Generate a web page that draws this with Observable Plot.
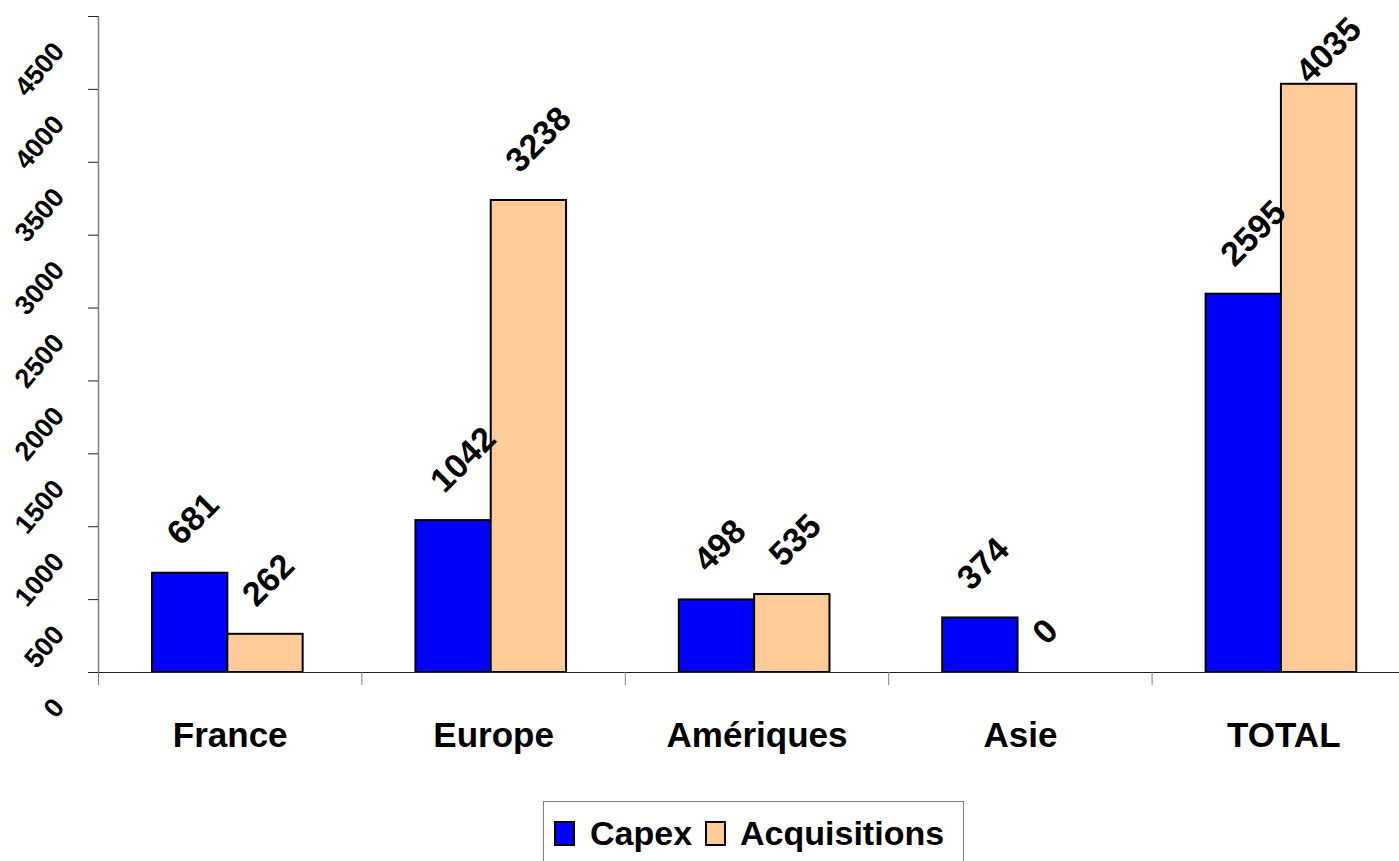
<!DOCTYPE html>
<html>
<head>
<meta charset="utf-8">
<script src="https://cdn.jsdelivr.net/npm/d3@7"></script>
<script src="https://cdn.jsdelivr.net/npm/@observablehq/plot@0.6"></script>
<style>
  body { margin: 0; background: #fff; font-family: "Liberation Sans", Arial, sans-serif; }
  #chart svg { display: block; }
  #legend {
    margin-left: 543px; margin-top: 11px; width: 421px; height: 64px;
    box-sizing: border-box; border: 1px solid #808080;
    display: flex; align-items: center; padding-left: 10px;
  }
  .sw { width: 21px; height: 25px; box-sizing: border-box; border: 2px solid #000; flex: none; }
  .lab { font-weight: bold; font-size: 34px; color: #000; white-space: nowrap; line-height: 1; }
</style>
</head>
<body>
<div id="chart"></div>
<div id="legend"></div>
<script>
// ---- data ----
const categories = ["France", "Europe", "Amériques", "Asie", "TOTAL"];
const seriesNames = ["Capex", "Acquisitions"];
const capex = [681, 1042, 498, 374, 2595];
const acquisitions = [262, 3238, 535, 0, 4035];
const seriesColors = ["#0000FF", "#FFCC99"];
const yTicks = [0, 500, 1000, 1500, 2000, 2500, 3000, 3500, 4000, 4500];

// ---- layout settings ----
const W = 1399, H = 790;
const barW = 0.286;       // bar width in category units
const shift = -0.009;     // group offset from category centre
const labelCeil = 3850;   // labels kept inside the chart area (as in the original)

const seriesValues = [capex, acquisitions];
const rows = [];
categories.forEach((cat, i) => {
  seriesNames.forEach((s, k) => {
    rows.push({cat, i, k, series: s, value: seriesValues[k][i]});
  });
});
const boundaries = d3.range(categories.length + 1).map(i => i - 0.5);
const centers = categories.map((_, i) => i);
const x1 = d => d.i + shift + (d.k - 1) * barW;

const chart = Plot.plot({
  width: W,
  height: H,
  marginLeft: 98,
  marginRight: 0,
  marginTop: 16,
  marginBottom: 118,
  style: {fontFamily: "'Liberation Sans', Arial, sans-serif", background: "#fff", color: "#000"},
  x: {domain: [-0.5, categories.length - 0.5], range: [98, 98 + 263.4 * categories.length], label: null},
  y: {domain: [0, 4500], label: null},
  color: {domain: seriesNames, range: seriesColors},
  marks: [
    // bars
    Plot.rect(rows.filter(d => d.value > 0), {
      x1: x1,
      x2: d => x1(d) + barW,
      y1: 0,
      y2: "value",
      fill: "series",
      stroke: "#000",
      strokeWidth: 2
    }),
    // baseline
    Plot.ruleY([0], {stroke: "#222", strokeWidth: 1.2}),
    // y axis line
    Plot.ruleX([-0.5], {y1: 0, y2: 4500, stroke: "#808080", strokeWidth: 1.5}),
    // y ticks
    Plot.axisY(yTicks, {tickSize: 10, tickFormat: () => "", stroke: "#222", label: null}),
    // y tick labels (rotated)
    Plot.text(yTicks, {
      y: d => d,
      text: d => String(d),
      frameAnchor: "left",
      textAnchor: "end",
      lineAnchor: "middle",
      rotate: -50,
      dx: -39.5,
      dy: 30,
      fontSize: 27,
      fontWeight: "bold",
      fill: "#000"
    }),
    // category boundary ticks
    Plot.axisX(boundaries, {tickSize: 13, tickFormat: () => "", stroke: "#808080", label: null}),
    // category labels
    Plot.axisX(centers, {
      tickSize: 0,
      tickPadding: 50,
      tickFormat: i => categories[i],
      fontSize: 35,
      fontWeight: "bold",
      fill: "#000",
      label: null
    }),
    // data labels
    Plot.text(rows, {
      x: d => x1(d) + barW / 2,
      y: d => Math.min(d.value, labelCeil),
      text: d => String(d.value),
      textAnchor: "start",
      lineAnchor: "middle",
      rotate: -45,
      dx: -17,
      dy: -34,
      fontSize: 34,
      fontWeight: "bold",
      fill: "#000"
    })
  ]
});
document.getElementById("chart").appendChild(chart);

// legend
const legend = document.getElementById("legend");
const gaps = [[0, 15], [13, 14]];
seriesNames.forEach((s, k) => {
  const sw = document.createElement("div");
  sw.className = "sw";
  sw.style.background = seriesColors[k];
  sw.style.marginLeft = gaps[k][0] + "px";
  const t = document.createElement("span");
  t.className = "lab";
  t.textContent = s;
  t.style.marginLeft = gaps[k][1] + "px";
  legend.appendChild(sw);
  legend.appendChild(t);
});
</script>
</body>
</html>
